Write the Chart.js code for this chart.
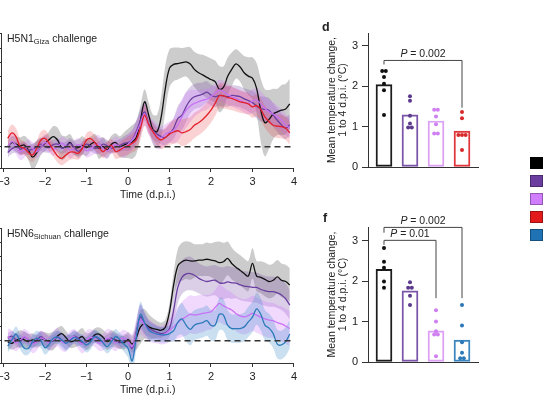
<!DOCTYPE html>
<html>
<head>
<meta charset="utf-8">
<script src="https://cdn.jsdelivr.net/npm/chart.js@4.4.1/dist/chart.umd.min.js"></script>
<style>
  body { margin: 0; background: #fff; }
  #fig { position: relative; width: 550px; height: 412px; overflow: hidden; background: #fff;
         font-family: "Liberation Sans", Arial, sans-serif; color: #222; }
  canvas { position: absolute; }
  .ttl { position: absolute; font-size: 10.5px; white-space: nowrap; line-height: 12px; }
  .ttl sub { font-size: 7.5px; vertical-align: -2px; line-height: 0; }
  .lab { position: absolute; font-size: 12.5px; font-weight: bold; line-height: 14px; }
  .key { position: absolute; width: 13px; height: 12px; box-sizing: border-box; border: 1px solid rgba(0,0,0,0.3); }
</style>
</head>
<body>
<div id="fig">
  <canvas id="lineTop" width="340" height="185" style="left:-40px;top:20px"></canvas>
  <canvas id="lineBot" width="340" height="185" style="left:-40px;top:215px"></canvas>
  <canvas id="barD" width="185" height="165" style="left:300px;top:15px"></canvas>
  <canvas id="barF" width="185" height="165" style="left:300px;top:210px"></canvas>
  <div class="ttl" style="left:7px;top:32px">H5N1<sub>Giza</sub> challenge</div>
  <div class="ttl" style="left:7px;top:227px">H5N6<sub>Sichuan</sub> challenge</div>
  <div class="lab" style="left:322px;top:20px">d</div>
  <div class="lab" style="left:323px;top:211px">f</div>
</div>
<script>
// time points (d.p.i.)
const times = [
  -2.9, -2.8, -2.7, -2.6, -2.5, -2.4, -2.3, -2.2, -2.1, -2.0,
  -1.9, -1.8, -1.7, -1.6, -1.5, -1.4, -1.3, -1.2, -1.1, -1.0,
  -0.9, -0.8, -0.7, -0.6, -0.5, -0.4, -0.3, -0.2, -0.1, 0.0,
  0.1, 0.2, 0.3, 0.4, 0.5, 0.6, 0.7, 0.8, 0.9,
  1.0, 1.1, 1.2, 1.3, 1.4, 1.5, 1.6, 1.7, 1.8, 1.9,
  2.0, 2.1, 2.2, 2.3, 2.4, 2.5, 2.6, 2.7, 2.8, 2.9,
  3.0, 3.1, 3.2, 3.3, 3.4, 3.5, 3.6, 3.7, 3.8, 3.9
];
const timeTicks = [-3, -2, -1, 0, 1, 2, 3, 4];

// H5N1 Giza challenge - mean temperature change and band half width
const gizaBlack = [
  0.00, 0.10, 0.06, 0.02, 0.04, -0.08, -0.25, -0.14, 0.00, 0.08,
  0.17, 0.24, 0.16, -0.02, 0.00, 0.10, -0.02, -0.02, 0.03, -0.02,
  0.06, 0.10, -0.04, 0.00, -0.08, 0.06, 0.10, 0.00, 0.04, 0.08,
  0.11, 0.22, 0.63, 1.07, 0.75, 0.41, 0.36, 0.71, 1.39,
  1.87, 1.96, 1.98, 2.00, 2.02, 1.97, 1.84, 1.76, 1.71, 1.65,
  1.60, 1.55, 1.37, 1.41, 1.67, 1.84, 1.97, 1.90, 1.76, 1.68,
  1.63, 1.39, 0.87, 0.57, 0.65, 0.78, 0.83, 0.87, 0.90, 1.02
];
const gizaBlackSpread = [
  0.15, 0.15, 0.18, 0.2, 0.22, 0.25, 0.3, 0.28, 0.2, 0.18,
  0.2, 0.25, 0.3, 0.3, 0.25, 0.2, 0.18, 0.2, 0.22, 0.2,
  0.18, 0.2, 0.25, 0.22, 0.2, 0.2, 0.22, 0.25, 0.3, 0.35,
  0.4, 0.4, 0.35, 0.3, 0.3, 0.35, 0.4, 0.5, 0.55,
  0.45, 0.4, 0.38, 0.35, 0.35, 0.4, 0.42, 0.45, 0.48, 0.5,
  0.5, 0.5, 0.55, 0.5, 0.45, 0.4, 0.35, 0.35, 0.4, 0.45,
  0.5, 0.6, 0.75, 0.8, 0.7, 0.6, 0.55, 0.6, 0.6, 0.6
];
const gizaPurple = [
  -0.14, -0.05, 0.00, -0.06, -0.02, -0.08, -0.06, 0.00, 0.06, 0.00,
  -0.02, 0.05, 0.06, -0.03, 0.00, 0.08, -0.02, -0.11, -0.03, 0.06,
  0.02, -0.04, -0.02, 0.06, 0.02, -0.04, 0.00, 0.03, 0.08, 0.10,
  0.17, 0.36, 0.63, 0.83, 0.54, 0.38, 0.30, 0.24, 0.22,
  0.32, 0.44, 0.67, 0.75, 0.95, 1.11, 1.19, 1.22, 1.25, 1.30,
  1.23, 1.19, 1.22, 1.21, 1.19, 1.22, 1.21, 1.19, 1.14, 1.10,
  1.05, 0.97, 0.90, 0.89, 0.86, 0.75, 0.63, 0.52, 0.44, 0.52
];
const gizaPurpleSpread = [
  0.12, 0.12, 0.14, 0.15, 0.14, 0.12, 0.13, 0.15, 0.16, 0.14,
  0.12, 0.13, 0.15, 0.14, 0.12, 0.12, 0.14, 0.16, 0.15, 0.13,
  0.12, 0.13, 0.15, 0.16, 0.14, 0.13, 0.14, 0.15, 0.17, 0.2,
  0.22, 0.25, 0.25, 0.22, 0.2, 0.2, 0.18, 0.18, 0.2,
  0.22, 0.25, 0.3, 0.35, 0.35, 0.32, 0.3, 0.3, 0.28, 0.26,
  0.25, 0.25, 0.25, 0.25, 0.24, 0.24, 0.25, 0.25, 0.25, 0.26,
  0.28, 0.3, 0.3, 0.3, 0.3, 0.28, 0.28, 0.27, 0.26, 0.25
];
const gizaLilac = [
  0.00, 0.12, 0.04, -0.12, -0.08, 0.02, -0.04, -0.12, 0.00, 0.10,
  0.03, -0.06, 0.00, 0.08, 0.02, -0.08, -0.03, 0.05, 0.00, -0.10,
  -0.05, 0.03, 0.06, -0.05, -0.10, 0.00, 0.06, 0.00, -0.05, 0.06,
  0.16, 0.32, 0.56, 0.78, 0.52, 0.36, 0.25, 0.22, 0.30,
  0.35, 0.38, 0.52, 0.71, 0.87, 0.97, 1.03, 1.07, 1.11, 1.13,
  1.19, 1.27, 1.35, 1.31, 1.25, 1.19, 1.15, 1.11, 1.06, 1.03,
  1.09, 1.11, 1.02, 0.91, 0.83, 0.78, 0.71, 0.63, 0.52, 0.44
];
const gizaLilacSpread = [
  0.18, 0.2, 0.22, 0.2, 0.18, 0.16, 0.15, 0.16, 0.18, 0.2,
  0.18, 0.16, 0.15, 0.16, 0.18, 0.2, 0.18, 0.16, 0.15, 0.16,
  0.18, 0.2, 0.22, 0.2, 0.18, 0.16, 0.18, 0.2, 0.22, 0.24,
  0.25, 0.28, 0.3, 0.28, 0.25, 0.28, 0.3, 0.26, 0.24,
  0.25, 0.3, 0.38, 0.42, 0.42, 0.38, 0.32, 0.28, 0.26, 0.25,
  0.24, 0.24, 0.25, 0.26, 0.25, 0.24, 0.24, 0.24, 0.25, 0.26,
  0.28, 0.28, 0.3, 0.3, 0.28, 0.28, 0.27, 0.26, 0.25, 0.24
];
const gizaRed = [
  0.20, 0.33, 0.24, 0.00, -0.04, -0.14, -0.20, -0.04, 0.16, 0.20,
  0.08, -0.08, -0.22, -0.28, -0.20, -0.13, -0.13, -0.16, -0.04, 0.16,
  0.19, 0.10, -0.02, -0.12, -0.02, 0.03, -0.12, -0.08, -0.02, 0.02,
  0.08, 0.17, 0.44, 0.75, 0.52, 0.36, 0.22, 0.16, 0.22,
  0.30, 0.35, 0.38, 0.33, 0.36, 0.41, 0.51, 0.57, 0.65, 0.75,
  0.87, 1.03, 1.21, 1.21, 1.17, 1.15, 1.11, 1.07, 1.05, 1.02,
  0.95, 0.98, 0.89, 0.71, 0.60, 0.51, 0.49, 0.48, 0.44, 0.33
];
const gizaRedSpread = [
  0.18, 0.2, 0.2, 0.18, 0.16, 0.15, 0.16, 0.18, 0.2, 0.2,
  0.18, 0.16, 0.15, 0.16, 0.18, 0.18, 0.16, 0.15, 0.15, 0.16,
  0.18, 0.18, 0.16, 0.15, 0.15, 0.16, 0.17, 0.18, 0.2, 0.22,
  0.22, 0.25, 0.28, 0.25, 0.22, 0.2, 0.2, 0.22, 0.24,
  0.26, 0.28, 0.3, 0.32, 0.32, 0.3, 0.3, 0.3, 0.3, 0.3,
  0.3, 0.3, 0.3, 0.3, 0.28, 0.28, 0.27, 0.26, 0.26, 0.26,
  0.26, 0.26, 0.26, 0.27, 0.28, 0.28, 0.28, 0.28, 0.28, 0.28
];

// H5N6 Sichuan challenge
const sichuanBlack = [
  -0.03, -0.06, 0.01, 0.05, 0.02, -0.02, 0.02, -0.02, 0.05, 0.02,
  -0.02, 0.00, 0.11, 0.17, 0.08, -0.02, 0.00, 0.05, 0.10, -0.02,
  0.03, 0.14, 0.16, 0.08, -0.02, 0.05, 0.02, -0.03, -0.05, 0.03,
  -0.08, 0.08, 0.33, 0.40, 0.33, 0.29, 0.27, 0.25, 0.32,
  0.69, 1.33, 1.78, 1.88, 1.92, 1.90, 1.90, 1.92, 1.92, 1.94,
  1.92, 1.90, 1.86, 1.88, 1.96, 1.84, 1.75, 1.68, 1.60, 1.54,
  1.84, 1.54, 1.51, 1.46, 1.41, 1.44, 1.52, 1.44, 1.41, 1.33
];
const sichuanBlackSpread = [
  0.15, 0.15, 0.18, 0.2, 0.2, 0.18, 0.16, 0.15, 0.16, 0.18,
  0.2, 0.22, 0.2, 0.18, 0.16, 0.15, 0.16, 0.18, 0.2, 0.2,
  0.18, 0.16, 0.16, 0.18, 0.2, 0.2, 0.18, 0.16, 0.16, 0.18,
  0.2, 0.3, 0.4, 0.35, 0.3, 0.25, 0.2, 0.18, 0.18,
  0.2, 0.3, 0.4, 0.45, 0.45, 0.45, 0.4, 0.38, 0.38, 0.4,
  0.4, 0.45, 0.5, 0.45, 0.4, 0.38, 0.36, 0.36, 0.36, 0.36,
  0.36, 0.36, 0.38, 0.4, 0.4, 0.4, 0.4, 0.4, 0.4, 0.4
];
const sichuanPurple = [
  0.06, 0.11, 0.02, -0.02, 0.08, 0.03, -0.06, 0.02, 0.10, 0.03,
  -0.02, 0.02, 0.10, 0.02, -0.05, 0.02, 0.11, 0.06, -0.05, -0.02,
  0.06, 0.10, 0.03, -0.02, 0.03, 0.06, 0.02, -0.05, 0.00, -0.02,
  -0.18, 0.21, 0.57, 0.40, 0.30, 0.24, 0.20, 0.17, 0.19,
  0.29, 0.73, 1.27, 1.51, 1.59, 1.60, 1.56, 1.49, 1.44, 1.41,
  1.43, 1.44, 1.38, 1.37, 1.40, 1.38, 1.37, 1.33, 1.30, 1.29,
  1.27, 1.27, 1.22, 1.19, 1.17, 1.17, 1.14, 1.09, 1.00, 0.85
];
const sichuanPurpleSpread = [
  0.12, 0.13, 0.14, 0.15, 0.14, 0.13, 0.12, 0.12, 0.14, 0.15,
  0.14, 0.13, 0.12, 0.13, 0.15, 0.15, 0.14, 0.12, 0.12, 0.13,
  0.14, 0.15, 0.14, 0.13, 0.12, 0.13, 0.14, 0.15, 0.15, 0.16,
  0.2, 0.25, 0.3, 0.25, 0.2, 0.18, 0.16, 0.16, 0.18,
  0.2, 0.3, 0.38, 0.4, 0.4, 0.4, 0.38, 0.36, 0.36, 0.36,
  0.36, 0.36, 0.38, 0.38, 0.38, 0.38, 0.36, 0.36, 0.36, 0.36,
  0.36, 0.36, 0.36, 0.36, 0.36, 0.36, 0.36, 0.36, 0.36, 0.36
];
const sichuanLilac = [
  0.10, 0.03, -0.05, 0.02, 0.10, 0.02, -0.08, -0.03, 0.06, 0.02,
  -0.06, 0.03, 0.08, -0.02, -0.06, 0.05, 0.10, 0.00, -0.08, 0.02,
  0.08, 0.03, -0.06, -0.03, 0.06, 0.03, -0.05, 0.02, 0.06, -0.02,
  -0.14, 0.17, 0.49, 0.37, 0.25, 0.19, 0.16, 0.13, 0.17,
  0.25, 0.33, 0.43, 0.51, 0.57, 0.63, 0.61, 0.63, 0.65, 0.67,
  0.69, 0.79, 0.89, 0.83, 0.78, 0.73, 0.65, 0.59, 0.57, 0.60,
  0.65, 0.61, 0.56, 0.52, 0.49, 0.48, 0.43, 0.40, 0.35, 0.29
];
const sichuanLilacSpread = [
  0.2, 0.22, 0.2, 0.18, 0.18, 0.2, 0.22, 0.2, 0.18, 0.16,
  0.18, 0.2, 0.22, 0.22, 0.2, 0.18, 0.18, 0.2, 0.22, 0.22,
  0.2, 0.18, 0.18, 0.2, 0.22, 0.22, 0.2, 0.18, 0.2, 0.22,
  0.3, 0.35, 0.35, 0.3, 0.26, 0.24, 0.22, 0.22, 0.24,
  0.28, 0.32, 0.38, 0.42, 0.45, 0.45, 0.45, 0.45, 0.45, 0.42,
  0.42, 0.42, 0.45, 0.45, 0.42, 0.42, 0.42, 0.42, 0.42, 0.42,
  0.42, 0.42, 0.42, 0.42, 0.42, 0.42, 0.42, 0.42, 0.42, 0.42
];
const sichuanBlue = [
  -0.13, 0.02, 0.16, -0.02, -0.18, -0.18, -0.02, 0.06, 0.00, -0.17,
  -0.08, 0.06, 0.08, 0.02, -0.06, 0.00, 0.08, 0.03, -0.02, -0.10,
  -0.02, 0.10, 0.06, -0.05, -0.14, -0.02, 0.10, 0.03, -0.08, -0.18,
  -0.48, 0.10, 0.63, 0.43, 0.25, 0.19, 0.16, 0.14, 0.14,
  0.17, 0.24, 0.44, 0.52, 0.37, 0.27, 0.37, 0.41, 0.43, 0.48,
  0.37, 0.37, 0.63, 0.61, 0.37, 0.29, 0.29, 0.29, 0.33, 0.45,
  0.56, 0.76, 0.63, 0.37, 0.30, 0.17, -0.08, -0.10, -0.02, 0.16
];
const sichuanBlueSpread = [
  0.15, 0.16, 0.18, 0.18, 0.16, 0.15, 0.16, 0.18, 0.18, 0.16,
  0.15, 0.15, 0.16, 0.18, 0.18, 0.16, 0.15, 0.15, 0.16, 0.18,
  0.18, 0.16, 0.15, 0.15, 0.16, 0.18, 0.18, 0.16, 0.18, 0.22,
  0.28, 0.3, 0.3, 0.25, 0.22, 0.2, 0.18, 0.18, 0.18,
  0.2, 0.25, 0.32, 0.38, 0.38, 0.38, 0.36, 0.36, 0.36, 0.36,
  0.36, 0.36, 0.38, 0.38, 0.36, 0.34, 0.34, 0.34, 0.34, 0.36,
  0.36, 0.38, 0.38, 0.36, 0.34, 0.34, 0.34, 0.34, 0.34, 0.34
];

// bar panels: mean temperature change 1 to 4 d.p.i. (°C), one dot per animal
const barGroups = [0, 1, 2, 3];
const barTicks = [0, 1, 2, 3];
const gizaMeans = [2.04, 1.29, 1.14, 0.89];
const gizaDots = [
  [2.38, 2.38, 2.23, 2.06, 1.90, 1.29],
  [1.75, 1.64, 1.27, 1.08, 0.98, 0.98],
  [1.42, 1.42, 1.25, 1.06, 0.83, 0.83],
  [1.36, 1.21, 0.79, 0.79, 0.79, 0.42]
];
const sichuanMeans = [2.29, 1.76, 0.77, 0.54];
const sichuanDots = [
  [2.82, 2.48, 2.33, 1.99, 1.84],
  [1.97, 1.84, 1.84, 1.64, 1.41],
  [1.28, 1.00, 0.76, 0.68, 0.68, 0.14],
  [1.41, 0.90, 0.49, 0.23, 0.09, 0.09]
];

const col = {
  black:  { line: '#111111', band: 'rgba(0,0,0,0.2)',        bar: '#1c1c1c', dot: '#111111', key: '#000000' },
  purple: { line: '#6a3fa0', band: 'rgba(110,65,165,0.25)',  bar: '#7a55a8', dot: '#5b3a8c', key: '#6b3d9e' },
  lilac:  { line: '#c873f5', band: 'rgba(205,120,250,0.28)', bar: '#dca0f5', dot: '#cf7ff0', key: '#d07dff' },
  red:    { line: '#e4202c', band: 'rgba(230,50,55,0.22)',   bar: '#e0353a', dot: '#d82a2a', key: '#e31a1c' },
  blue:   { line: '#2b7bba', band: 'rgba(45,130,195,0.25)',  bar: '#3c86c0', dot: '#2a78b8', key: '#1f72b4' }
};
const keyOrder = ['black', 'purple', 'lilac', 'red', 'blue'];

Chart.defaults.font.family = '"Liberation Sans", Arial, sans-serif';
Chart.defaults.color = '#222';

const minus = v => (v < 0 ? '\u2212' + Math.abs(v) : String(v));

const dashedZero = {
  id: 'dashedZero',
  afterDatasetsDraw(chart) {
    const { ctx, chartArea, scales } = chart;
    const py = scales.y.getPixelForValue(0);
    ctx.save();
    ctx.setLineDash([6, 4]);
    ctx.strokeStyle = '#333';
    ctx.lineWidth = 1.4;
    ctx.beginPath();
    ctx.moveTo(chartArea.left + 3, py);
    ctx.lineTo(chartArea.right, py);
    ctx.stroke();
    ctx.restore();
  }
};

function lineChart(id, series, yMin, yMax) {
  const datasets = [];
  const n = series.length;
  series.forEach((s, k) => {
    const low = datasets.length;
    datasets.push({
      data: times.map((t, i) => ({ x: t, y: s.mean[i] - s.spread[i] })),
      borderWidth: 0, pointRadius: 0, fill: false, tension: 0.35, order: 20 + n - k
    });
    datasets.push({
      data: times.map((t, i) => ({ x: t, y: s.mean[i] + s.spread[i] })),
      borderWidth: 0, pointRadius: 0, fill: { target: low }, backgroundColor: s.c.band,
      tension: 0.35, order: 20 + n - k
    });
  });
  series.forEach((s, k) => {
    datasets.push({
      data: times.map((t, i) => ({ x: t, y: s.mean[i] })),
      borderColor: s.c.line, borderWidth: 1.3, pointRadius: 0, fill: false,
      tension: 0.35, order: n - k
    });
  });

  return new Chart(document.getElementById(id), {
    type: 'line',
    data: { datasets },
    plugins: [dashedZero],
    options: {
      responsive: false,
      animation: false,
      layout: { padding: { left: 0, right: 6, top: 13, bottom: 0 } },
      plugins: { legend: { display: false }, tooltip: { enabled: false } },
      scales: {
        x: {
          type: 'linear', min: -3.05, max: 4,
          afterBuildTicks: s => { s.ticks = timeTicks.map(v => ({ value: v })); },
          afterFit: s => { s.height = 37; },
          grid: { drawOnChartArea: false, tickLength: 4, color: '#333' },
          border: { color: '#333', width: 1 },
          ticks: { font: { size: 11 }, color: '#222', padding: 3, maxRotation: 0, callback: v => minus(v) },
          title: { display: true, text: 'Time (d.p.i.)', font: { size: 10.5 }, color: '#222', padding: { top: 0, bottom: 4 } }
        },
        y: {
          min: yMin, max: yMax,
          afterFit: s => { s.width = 41.5; },
          ticks: { display: false, stepSize: 1 / 3 },
          grid: { drawOnChartArea: false, tickLength: 3, color: '#333' },
          border: { color: '#333', width: 1 }
        }
      }
    }
  });
}

function bracketPlugin(items) {
  return {
    id: 'brackets',
    afterDraw(chart) {
      const { ctx, scales: { x, y } } = chart;
      const fam = '"Liberation Sans", Arial, sans-serif';
      ctx.save();
      ctx.strokeStyle = '#444';
      ctx.lineWidth = 1;
      items.forEach(b => {
        const x1 = x.getPixelForValue(b.from);
        const x2 = x.getPixelForValue(b.to);
        const yl = y.getPixelForValue(b.level);
        ctx.beginPath();
        ctx.moveTo(x1, y.getPixelForValue(b.leftEnd));
        ctx.lineTo(x1, yl);
        ctx.lineTo(x2, yl);
        ctx.lineTo(x2, y.getPixelForValue(b.rightEnd));
        ctx.stroke();

        const rest = ' = ' + b.p;
        ctx.font = 'italic 10.5px ' + fam;
        const wP = ctx.measureText('P').width;
        ctx.font = '10.5px ' + fam;
        const wR = ctx.measureText(rest).width;
        const tx = (x1 + x2) / 2 - (wP + wR) / 2;
        const ty = yl - 6.5;
        ctx.fillStyle = '#222';
        ctx.textBaseline = 'middle';
        ctx.textAlign = 'left';
        ctx.font = 'italic 10.5px ' + fam;
        ctx.fillText('P', tx, ty);
        ctx.font = '10.5px ' + fam;
        ctx.fillText(rest, tx + wP, ty);
      });
      ctx.restore();
    }
  };
}

function barChart(id, means, dots, colours, yMax, padTop, brackets) {
  const datasets = [{
    type: 'bar',
    data: means.map((m, i) => ({ x: barGroups[i], y: m })),
    backgroundColor: 'rgba(255,255,255,0)',
    borderColor: colours.map(c => c.bar),
    borderWidth: 1.3,
    borderSkipped: false,
    barThickness: 16,
    order: 2
  }];
  dots.forEach((grp, g) => {
    const counts = {};
    grp.forEach(v => { counts[v] = (counts[v] || 0) + 1; });
    const seen = {};
    const data = grp.map(v => {
      seen[v] = seen[v] === undefined ? 0 : seen[v] + 1;
      return { x: barGroups[g] + (seen[v] - (counts[v] - 1) / 2) * 0.14, y: v };
    });
    datasets.push({
      type: 'scatter', data,
      pointRadius: 2, pointBorderWidth: 0,
      pointBackgroundColor: colours[g].dot, order: 1
    });
  });

  return new Chart(document.getElementById(id), {
    type: 'bar',
    data: { datasets },
    plugins: [bracketPlugin(brackets)],
    options: {
      responsive: false,
      animation: false,
      layout: { padding: { left: 0, right: 7, top: padTop, bottom: 0 } },
      plugins: { legend: { display: false }, tooltip: { enabled: false } },
      scales: {
        x: {
          type: 'linear', min: -0.615, max: 3.615, offset: false,
          afterFit: s => { s.height = 13; },
          grid: { display: true, drawOnChartArea: false, drawTicks: false, offset: false },
          border: { color: '#333', width: 1 },
          ticks: { display: false }
        },
        y: {
          min: 0, max: yMax,
          afterBuildTicks: s => { s.ticks = barTicks.map(v => ({ value: v })); },
          afterFit: s => { s.width = 68; },
          grid: { drawOnChartArea: false, tickLength: 6, color: '#333' },
          border: { color: '#333', width: 1 },
          ticks: { font: { size: 11 }, color: '#222', padding: 4 },
          title: {
            display: true,
            text: ['Mean temperature change,', '1 to 4 d.p.i. (\u00b0C)'],
            font: { size: 10.5, lineHeight: 1.05 },
            color: '#222',
            padding: { top: 26.5, bottom: 0 }
          }
        }
      }
    }
  });
}

lineChart('lineTop', [
  { mean: gizaBlack, spread: gizaBlackSpread, c: col.black },
  { mean: gizaPurple, spread: gizaPurpleSpread, c: col.purple },
  { mean: gizaLilac, spread: gizaLilacSpread, c: col.lilac },
  { mean: gizaRed, spread: gizaRedSpread, c: col.red }
], -0.507, 2.707);

lineChart('lineBot', [
  { mean: sichuanBlack, spread: sichuanBlackSpread, c: col.black },
  { mean: sichuanPurple, spread: sichuanPurpleSpread, c: col.purple },
  { mean: sichuanLilac, spread: sichuanLilacSpread, c: col.lilac },
  { mean: sichuanBlue, spread: sichuanBlueSpread, c: col.blue }
], -0.53, 2.684);

barChart('barD', gizaMeans, gizaDots, [col.black, col.purple, col.lilac, col.red], 3.32, 18, [
  { from: 0, to: 3, level: 2.64, leftEnd: 2.54, rightEnd: 1.47, p: '0.002' }
]);

barChart('barF', sichuanMeans, sichuanDots, [col.black, col.purple, col.lilac, col.blue], 3.34, 17, [
  { from: 0, to: 3, level: 3.33, leftEnd: 3.2, rightEnd: 1.58, p: '0.002' },
  { from: 0, to: 2, level: 3.01, leftEnd: 2.9, rightEnd: 1.58, p: '0.01' }
]);

// colour key (labels fall outside the cropped picture)
const fig = document.getElementById('fig');
keyOrder.forEach((k, i) => {
  const d = document.createElement('div');
  d.className = 'key';
  d.style.left = '530px';
  d.style.top = (157 + 18 * i) + 'px';
  d.style.background = col[k].key;
  fig.appendChild(d);
});
</script>
</body>
</html>
